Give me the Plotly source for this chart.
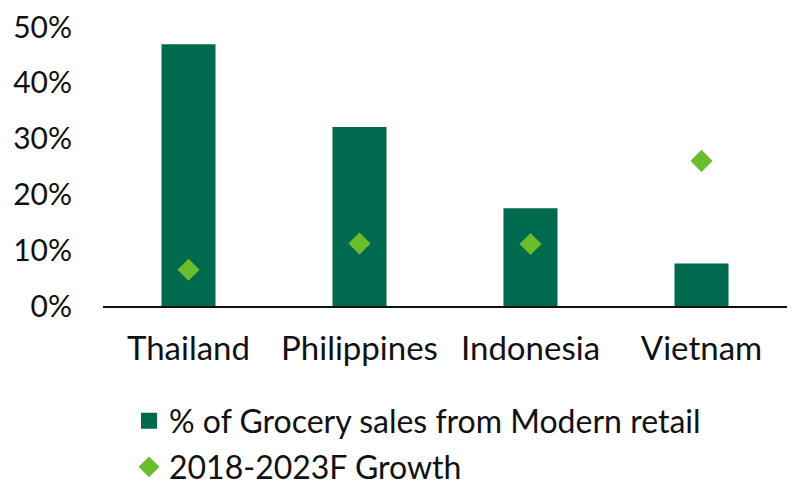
import plotly.graph_objects as go

countries = ["Thailand", "Philippines", "Indonesia", "Vietnam"]
modern_retail_share = [0.469, 0.321, 0.175, 0.076]
growth_2018_2023f = [0.065, 0.112, 0.111, 0.26]

bar_name = "% of Grocery sales from Modern retail"
growth_name = "2018-2023F Growth"

bar_color = "#006A4E"
diamond_color = "#6CBD2C"
font_family = "Lato, 'Open Sans', sans-serif"

fig = go.Figure()
fig.add_trace(go.Bar(
    x=countries, y=modern_retail_share,
    name=bar_name,
    marker=dict(color=bar_color, line=dict(width=0)),
    showlegend=False,
))
# legend entry for the bars, drawn with a larger square swatch
fig.add_trace(go.Scatter(
    x=[None], y=[None],
    name=bar_name,
    mode="markers",
    marker=dict(symbol="square", size=16, color=bar_color),
    legend="legend",
))
fig.add_trace(go.Scatter(
    x=countries, y=growth_2018_2023f,
    name=growth_name,
    mode="markers",
    marker=dict(symbol="diamond", size=17, color=diamond_color),
    legend="legend2",
))

legend_style = dict(
    xref="container", yref="container",
    xanchor="left", yanchor="middle",
    font=dict(size=32), bgcolor="rgba(0,0,0,0)",
    borderwidth=0,
)

fig.update_layout(
    width=794, height=481,
    margin=dict(l=103, r=7, t=27, b=175, autoexpand=False),
    paper_bgcolor="white", plot_bgcolor="white",
    font=dict(family=font_family, size=31, color="#111111"),
    bargap=0.684,
    xaxis=dict(
        showline=True, linecolor="#111111", linewidth=2,
        ticks="", ticklabelstandoff=12, automargin=False,
        showgrid=False, tickfont=dict(size=33),
    ),
    yaxis=dict(
        range=[0, 0.5], dtick=0.1, tickformat=".0%",
        showgrid=False, zeroline=False, showline=False,
        ticklabelstandoff=30, automargin=False,
        tickfont=dict(size=30),
    ),
    legend=dict(x=129 / 794, y=1 - 421 / 481, **legend_style),
    legend2=dict(x=129 / 794, y=1 - 467 / 481, **legend_style),
    showlegend=True,
)

fig.write_html("out.html")
